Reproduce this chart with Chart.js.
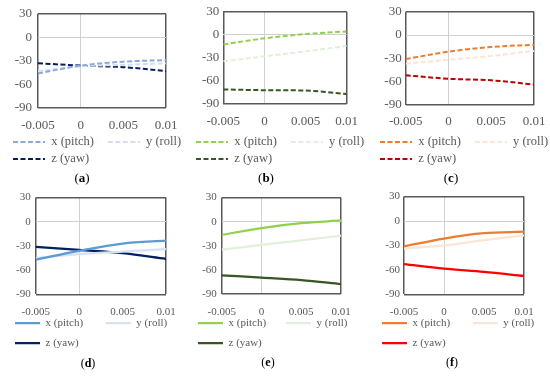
<!DOCTYPE html>
<html>
<head>
<meta charset="utf-8">
<script src="https://cdn.jsdelivr.net/npm/chart.js@4.4.1/dist/chart.umd.min.js"></script>
<style>
  html, body { margin: 0; padding: 0; background: #fff; overflow: hidden; }
  #wrap { position: relative; width: 550px; height: 376px; }
  canvas { position: absolute; }
  .cap { position: absolute; transform: translate(-50%, -50%); font-family: 'Liberation Serif', serif; color: #000; white-space: nowrap; }
</style>
</head>
<body>
<div id="wrap"></div>
<script>
// valores
const xValues = [-0.005, 0, 0.005, 0.01];
const seriesNames = ['x (pitch)', 'y (roll)', 'z (yaw)'];
const xTicks = [-0.005, 0, 0.005, 0.01];
const xTickLabels = ['-0.005', '0', '0.005', '0.01'];
const yTicks = [30, 0, -30, -60, -90];

const aPitch = [-46, -36, -31, -29];
const aRoll  = [-43, -37, -35, -33];
const aYaw   = [-33, -36, -38, -43];

const bPitch = [-12.5, -4.5, 1, 4.5];
const bRoll  = [-34.5, -28, -21.5, -14.5];
const bYaw   = [-71, -72, -72.5, -77];

const cPitch = [-31, -21.5, -15.5, -12.5];
const cRoll  = [-37, -32, -27, -20.5];
const cYaw   = [-52, -56.5, -58.5, -64];

const dPitch = [-47, -36, -27, -23.5];
const dRoll  = [-45, -40, -37, -34];
const dYaw   = [-31, -35, -39, -46];

const ePitch = [-16.5, -8, -2, 1.5];
const eRoll  = [-35, -29, -23.5, -17.5];
const eYaw   = [-67, -70, -73, -78];

const fPitch = [-31, -21.5, -15, -13];
const fRoll  = [-34, -30, -23.5, -17.5];
const fYaw   = [-53, -58.5, -62.5, -67.5];

Chart.defaults.font.family = "'Liberation Serif', 'Times New Roman', serif";
Chart.defaults.color = '#595959';

const topRow = { oy: 0, H: 186, tickFs: 13, legFs: 12.5, legPad: 4.5, boxW: 32, dashed: true, lineW: 2, capFs: 13 };
const bottomRow = { oy: 186, H: 190, tickFs: 11, legFs: 11, legPad: 9, boxW: 25, dashed: false, lineW: 2.25, capFs: 12 };

const panels = [
  { tag: 'a', row: topRow, series: [aPitch, aRoll, aYaw], colors: ['#8eaadb', '#d3def2', '#002060'],
    ox: 0, plot: [38, 166, 11, 108], xTickY: 126, leg1X: 13, row1Y: 142, spaces: 3, yPad: 6, cap: [82, 178] },
  { tag: 'b', row: topRow, series: [bPitch, bRoll, bYaw], colors: ['#92d050', '#e2f0d9', '#375623'],
    ox: 180, plot: [223.3, 346.7, 10, 104], xTickY: 122, leg1X: 196, row1Y: 142, spaces: 3, yPad: 4, cap: [266, 178] },
  { tag: 'c', row: topRow, series: [cPitch, cRoll, cYaw], colors: ['#ed7d31', '#fbe5d6', '#c00000'],
    ox: 365, plot: [405.7, 534, 10, 104.7], xTickY: 122, leg1X: 380, row1Y: 142, spaces: 3, yPad: 4, cap: [451, 178] },
  { tag: 'd', row: bottomRow, series: [dPitch, dRoll, dYaw], colors: ['#5b9bd5', '#d6e1f3', '#002060'],
    ox: 0, plot: [35.7, 166, 196, 294.3], xTickY: 312, leg1X: 15, row1Y: 323, spaces: 5, yPad: 5, cap: [88, 363] },
  { tag: 'e', row: bottomRow, series: [ePitch, eRoll, eYaw], colors: ['#92d050', '#e2f0d9', '#375623'],
    ox: 180, plot: [221.7, 341, 196, 293.7], xTickY: 312, leg1X: 198, row1Y: 323, spaces: 4, yPad: 5, cap: [268, 362] },
  { tag: 'f', row: bottomRow, series: [fPitch, fRoll, fYaw], colors: ['#ed7d31', '#fbe5d6', '#ff0000'],
    ox: 365, plot: [404, 524, 196, 294.3], xTickY: 312, leg1X: 382, row1Y: 323, spaces: 5, yPad: 4, cap: [452, 362] }
];

const W = 195;
const wrap = document.getElementById('wrap');

function gridColor(lo, hi) {
  return ctx => {
    const v = ctx.tick.value;
    if (v === 0) return '#d0d0d0';
    if (v === lo || v === hi) return '#595959';
    return 'rgba(0,0,0,0)';
  };
}
function gridWidth(lo, hi) {
  return ctx => {
    const v = ctx.tick.value;
    return (v === lo || v === hi) ? 1.5 : 1;
  };
}

panels.forEach(p => {
  const r = p.row;
  const [plotL, plotR, plotT, plotB] = p.plot;
  const canvas = document.createElement('canvas');
  canvas.width = W;
  canvas.height = r.H;
  canvas.style.left = p.ox + 'px';
  canvas.style.top = r.oy + 'px';
  wrap.appendChild(canvas);

  // márgenes para que el área del gráfico caiga donde está en la figura
  const padLeft = p.leg1X - p.ox - r.legPad;
  const yAxisW = plotL - p.ox - padLeft;
  const rightW = p.ox + W - plotR;
  const padTop = plotT - r.oy;
  const xTickPad = p.xTickY - plotB - r.tickFs * 0.6;
  const legendTop = p.row1Y - r.legPad - r.legFs / 2;
  const xAxisH = Math.max(legendTop - plotB, xTickPad + r.tickFs * 1.2 + 1);
  const legendShift = plotB + xAxisH - legendTop;   // la leyenda sube sobre el eje en los paneles d-f
  const legendH = 2 * (r.legFs + r.legPad) + 10;
  const padBottom = r.oy + r.H - (plotB + xAxisH + legendH);
  const spacer = ' '.repeat(p.spaces);

  const datasets = p.series.map((vals, i) => ({
    label: seriesNames[i],
    data: xValues.map((x, j) => ({ x: x, y: vals[j] })),
    borderColor: p.colors[i],
    backgroundColor: p.colors[i],
    borderWidth: r.lineW,
    borderDash: r.dashed ? [5, 2.5] : [],
    pointRadius: 0,
    cubicInterpolationMode: 'monotone',
    fill: false
  }));

  new Chart(canvas.getContext('2d'), {
    type: 'line',
    data: { datasets: datasets },
    plugins: [{
      id: 'legendShift',
      afterLayout(chart) {
        chart.legend.top -= legendShift;
        chart.legend.bottom -= legendShift;
      }
    }],
    options: {
      responsive: false,
      animation: false,
      devicePixelRatio: 1,
      layout: { padding: { left: padLeft, right: 0, top: padTop, bottom: padBottom } },
      plugins: {
        tooltip: { enabled: false },
        legend: {
          position: 'bottom',
          align: 'start',
          labels: {
            usePointStyle: true,
            pointStyle: 'line',
            pointStyleWidth: r.boxW,
            padding: r.legPad,
            color: '#595959',
            font: { size: r.legFs },
            generateLabels: chart => {
              const items = Chart.defaults.plugins.legend.labels.generateLabels(chart);
              items.forEach(it => {
                const ds = chart.data.datasets[it.datasetIndex];
                it.strokeStyle = ds.borderColor;
                it.lineWidth = ds.borderWidth;
                it.lineDash = ds.borderDash;
              });
              items[0].text += spacer;
              return items;
            }
          }
        }
      },
      scales: {
        x: {
          type: 'linear',
          min: xTicks[0],
          max: xTicks[xTicks.length - 1],
          afterBuildTicks: s => { s.ticks = xTicks.map(v => ({ value: v })); },
          afterFit: s => { s.height = xAxisH; },
          ticks: {
            autoSkip: false, maxRotation: 0, padding: xTickPad,
            font: { size: r.tickFs }, color: '#595959',
            callback: (v, i) => xTickLabels[i]
          },
          grid: { drawTicks: false, color: gridColor(xTicks[0], xTicks[xTicks.length - 1]), lineWidth: gridWidth(xTicks[0], xTicks[xTicks.length - 1]) },
          border: { display: false }
        },
        y: {
          type: 'linear',
          min: yTicks[yTicks.length - 1],
          max: yTicks[0],
          afterBuildTicks: s => { s.ticks = yTicks.slice().reverse().map(v => ({ value: v })); },
          afterFit: s => { s.width = yAxisW; },
          ticks: {
            autoSkip: false, padding: p.yPad,
            font: { size: r.tickFs }, color: '#595959',
            callback: v => String(v)
          },
          grid: { drawTicks: false, color: gridColor(yTicks[yTicks.length - 1], yTicks[0]), lineWidth: gridWidth(yTicks[yTicks.length - 1], yTicks[0]) },
          border: { display: false }
        },
        pad: {
          type: 'linear',
          position: 'right',
          display: true,
          ticks: { display: false },
          grid: { display: false },
          border: { display: false },
          afterFit: s => { s.width = rightW; }
        }
      }
    }
  });

  const cap = document.createElement('div');
  cap.className = 'cap';
  cap.style.left = p.cap[0] + 'px';
  cap.style.top = p.cap[1] + 'px';
  cap.style.fontSize = r.capFs + 'px';
  cap.innerHTML = '(<b>' + p.tag + '</b>)';
  wrap.appendChild(cap);
});
</script>
</body>
</html>
